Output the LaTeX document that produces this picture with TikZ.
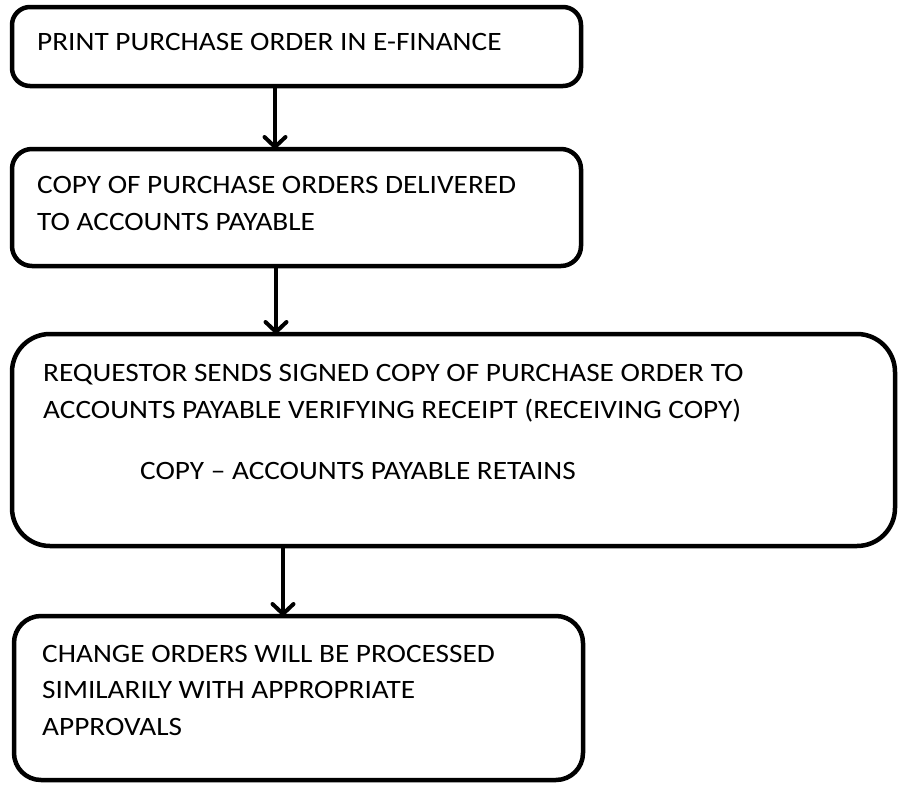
\documentclass[tikz,border=0pt]{standalone}
\usepackage{fontspec}
\setmainfont{Carlito}[FakeStretch=1.105]
\usetikzlibrary{arrows.meta}

\begin{document}
\begin{tikzpicture}[x=1pt, y=-1pt,
  box/.style={draw=black, line width=4.5pt, rounded corners=#1, inner sep=0, outer sep=0, anchor=north west},
  box/.default=18pt,
  txt/.style={anchor=base west, inner sep=0, align=left, font=\fontsize{26.5}{36.5}\selectfont},
  flow/.style={line width=4pt, -{Straight Barb[length=10pt, width=21pt, line cap=round, line join=round]}}]
\useasboundingbox (0,0) rectangle (903,787);
% boxes
\node[box, minimum width=569pt, minimum height=79pt] (print) at (12,7) {};
\node[box=20pt, minimum width=569pt, minimum height=117pt] (deliver) at (12,149) {};
\node[box=38pt, minimum width=883pt, minimum height=212pt] (verify) at (12,334) {};
\node[box=27pt, minimum width=569pt, minimum height=164pt] (change) at (14,616) {};
% texts (base = last line)
\node[txt] (printtxt) at (37,50) {PRINT PURCHASE ORDER IN E-FINANCE};
\node[txt] (delivertxt) at (37,230) {COPY OF PURCHASE ORDERS DELIVERED\\TO ACCOUNTS PAYABLE};
\node[txt] (verifytxt) at (43,418) {REQUESTOR SENDS SIGNED COPY OF PURCHASE ORDER TO\\ACCOUNTS PAYABLE VERIFYING RECEIPT (RECEIVING COPY)};
\node[txt] (retaintxt) at (140,479) {COPY -- ACCOUNTS PAYABLE RETAINS};
\node[txt] (changetxt) at (42,735) {CHANGE ORDERS WILL BE PROCESSED\\SIMILARILY WITH APPROPRIATE\\APPROVALS};
% arrows
\draw[flow] ([xshift=263pt]print.south west) -- ([xshift=263pt]deliver.north west);
\draw[flow] ([xshift=264pt]deliver.south west) -- ([xshift=264pt]verify.north west);
\draw[flow] ([xshift=271pt]verify.south west) -- ([xshift=269pt]change.north west);
\end{tikzpicture}
\end{document}
